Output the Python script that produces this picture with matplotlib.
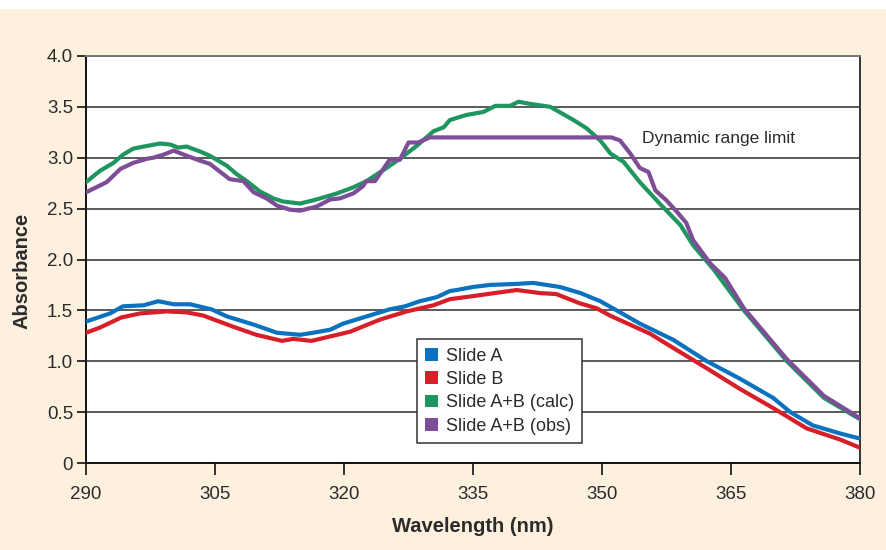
import matplotlib
matplotlib.use('Agg')
import matplotlib.pyplot as plt
from matplotlib.patches import Patch, Rectangle

# ── Data ────────────────────────────────────────────────────
slide_a_x = [290, 292.8, 294.3, 296.7, 298.4, 300.2, 302.1, 304.6, 306.4, 309.5,
             312.2, 314.9, 316.4, 318.4, 319.9, 322.6, 325.3, 327.1, 328.8, 330.8,
             332.3, 333.1, 335, 337, 340, 342, 345.1, 347.5, 349.8, 351.7,
             354.4, 358.3, 362.2, 366, 369.9, 371.9, 374.5, 377.7, 380]
slide_a_y = [1.39, 1.47, 1.54, 1.55, 1.59, 1.56, 1.56, 1.51, 1.44, 1.36,
             1.28, 1.26, 1.28, 1.31, 1.37, 1.44, 1.51, 1.54, 1.59, 1.63,
             1.69, 1.70, 1.73, 1.75, 1.76, 1.77, 1.73, 1.67, 1.59, 1.50,
             1.37, 1.21, 1.00, 0.83, 0.64, 0.50, 0.37, 0.29, 0.24]

slide_b_x = [290, 291.6, 294.1, 296.3, 299.4, 301.7, 303.6, 307.1, 309.8, 312.8,
             314.1, 316.2, 320.7, 324.2, 327.3, 330.4, 332.3, 335, 337.5, 340.1,
             342.8, 344.7, 347.4, 349.4, 350.9, 355.6, 358.3, 362.2, 366, 369.9,
             373.8, 377.7, 380]
slide_b_y = [1.28, 1.33, 1.43, 1.47, 1.49, 1.48, 1.45, 1.34, 1.26, 1.20,
             1.22, 1.20, 1.29, 1.41, 1.49, 1.55, 1.61, 1.64, 1.67, 1.70,
             1.67, 1.66, 1.57, 1.52, 1.45, 1.27, 1.13, 0.93, 0.73, 0.54,
             0.34, 0.23, 0.15]

calc_x = [290, 291.6, 293.2, 294.3, 295.5, 296.7, 298.6, 299.8, 300.7, 301.7,
          303.3, 304.4, 306.4, 307.5, 308.7, 310.2, 311.8, 312.9, 314.9, 316.8,
          319.2, 321.1, 322.6, 324.6, 326.5, 328.5, 330.4, 331.6, 332.3, 334.2,
          336.2, 337.6, 339.3, 340.3, 341.6, 344.0, 346.7, 348.2, 349.8, 351.0,
          352.5, 354.4, 356.7, 359.1, 360.6, 363.0, 366.5, 371.5, 375.8, 380]
calc_y = [2.76, 2.87, 2.95, 3.03, 3.09, 3.11, 3.14, 3.13, 3.10, 3.11,
          3.06, 3.02, 2.92, 2.84, 2.77, 2.67, 2.60, 2.57, 2.55, 2.59,
          2.65, 2.71, 2.77, 2.88, 2.99, 3.12, 3.26, 3.30, 3.37, 3.42,
          3.45, 3.51, 3.51, 3.55, 3.53, 3.50, 3.37, 3.29, 3.17, 3.04,
          2.96, 2.76, 2.55, 2.34, 2.14, 1.90, 1.50, 1.00, 0.64, 0.43]

obs_x = [290, 292.4, 294.0, 295.5, 297.1, 297.8, 299.0, 300.2, 301.7, 303.3,
         304.4, 306.7, 308.3, 309.5, 311.0, 312.2, 313.7, 314.9, 316.8, 318.4,
         319.5, 321.1, 322.2, 322.6, 323.6, 325.3, 326.5, 327.5, 328.6, 330.0,
         351.1, 352.1, 353.3, 354.4, 355.4, 356.2, 357.5, 358.7, 359.8, 360.6,
         362.6, 364.3, 366.5, 371.5, 375.8, 380]
obs_y = [2.66, 2.76, 2.89, 2.95, 2.99, 3.00, 3.03, 3.07, 3.02, 2.97,
         2.94, 2.79, 2.77, 2.66, 2.60, 2.53, 2.49, 2.48, 2.52, 2.59,
         2.60, 2.65, 2.72, 2.77, 2.77, 2.98, 2.98, 3.15, 3.15, 3.20,
         3.20, 3.17, 3.04, 2.90, 2.86, 2.68, 2.58, 2.47, 2.36, 2.19,
         1.96, 1.82, 1.52, 1.02, 0.66, 0.44]

series_names = ['Slide A', 'Slide B', 'Slide A+B (calc)', 'Slide A+B (obs)']
x_ticks = [290, 305, 320, 335, 350, 365, 380]
y_ticks = [0, 0.5, 1.0, 1.5, 2.0, 2.5, 3.0, 3.5, 4.0]
y_tick_labels = ['0', '0.5', '1.0', '1.5', '2.0', '2.5', '3.0', '3.5', '4.0']

# ── Style ───────────────────────────────────────────────────
CREAM = '#FDF0DE'
BLUE = '#0A72BE'
RED = '#D71F2A'
GREEN = '#1F9660'
PURPLE = '#7E4D98'
TEXT = '#2B2B2B'

plt.rcParams.update({
    'font.family': ['Liberation Sans', 'DejaVu Sans'],
    'font.size': 13.5,
    'text.color': TEXT,
    'xtick.color': '#222222',
    'ytick.color': '#222222',
    'xtick.labelcolor': TEXT,
    'ytick.labelcolor': TEXT,
})

fig = plt.figure(figsize=(8.87, 5.50), dpi=100, facecolor=CREAM)
# white strip along the top edge
fig.patches.append(Rectangle((0, 1 - 9 / 550), 1, 9 / 550, transform=fig.transFigure,
                             facecolor='white', edgecolor='none', zorder=0))

ax = fig.add_axes([86 / 887, 1 - 463 / 550, (860 - 86) / 887, (463 - 56) / 550])
ax.set_facecolor('white')

for yv in y_ticks[1:]:
    ax.axhline(yv, color='#2E2E2E', linewidth=1.1, zorder=1)

lw = 3.0
ax.plot(slide_a_x, slide_a_y, color=BLUE, linewidth=lw, zorder=3, solid_joinstyle='round')
ax.plot(slide_b_x, slide_b_y, color=RED, linewidth=lw, zorder=3, solid_joinstyle='round')
ax.plot(calc_x, calc_y, color=GREEN, linewidth=lw, zorder=4, solid_joinstyle='round')
ax.plot(obs_x, obs_y, color=PURPLE, linewidth=lw, zorder=5, solid_joinstyle='round')

ax.text(354.65, 3.19, 'Dynamic range limit', ha='left', va='center',
        fontsize=12.5, color=TEXT, zorder=6)

ax.set_xlim(290, 380)
ax.set_ylim(0, 4.0)
ax.set_xticks(x_ticks)
ax.set_yticks(y_ticks)
ax.set_yticklabels(y_tick_labels)
ax.tick_params(axis='x', length=8.5, width=1.3, pad=8, labelsize=13.5)
ax.tick_params(axis='y', length=6.3, width=1.3, pad=3, labelsize=13.5)

for side in ['left', 'bottom']:
    ax.spines[side].set_color('#111111')
    ax.spines[side].set_linewidth(1.4)
ax.spines['right'].set_color('#333333')
ax.spines['right'].set_linewidth(1.4)
ax.spines['top'].set_color('#777777')
ax.spines['top'].set_linewidth(1.4)

fig.text(22 / 887, 1 - 271 / 550, 'Absorbance', rotation=90, ha='center',
         va='center', fontweight='bold', fontsize=14.5, color=TEXT)
fig.text(473 / 887, 1 - 527 / 550, 'Wavelength (nm)', ha='center', va='center',
         fontweight='bold', fontsize=14.5, color=TEXT)

handles = [Patch(facecolor=c, edgecolor='none') for c in [BLUE, RED, GREEN, PURPLE]]
leg = ax.legend(handles, series_names, loc='lower left',
                bbox_to_anchor=(0.428, 0.05), borderaxespad=0,
                fancybox=False, framealpha=1, edgecolor='#333333',
                handlelength=0.7, handleheight=0.7, handletextpad=0.45,
                labelspacing=0.35, borderpad=0.45, fontsize=13)
leg.get_frame().set_linewidth(1.1)
leg.set_zorder(7)

fig.savefig('out.png', dpi=100, facecolor=CREAM)
